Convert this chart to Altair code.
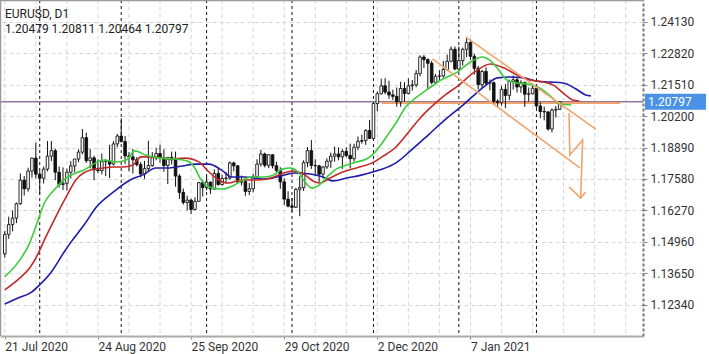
import altair as alt
import pandas as pd

# ---------------- data ----------------
symbol_title = "EURUSD, D1"
ohlc_title = "1.20479 1.20811 1.20464 1.20797"

opens = [1.1446, 1.1527, 1.1568, 1.1595, 1.1655, 1.1753, 1.1717, 1.1791, 1.1845,
         1.1778, 1.1761, 1.1799, 1.1853, 1.1876, 1.1786, 1.1735, 1.1740, 1.1786, 1.1812, 1.1841,
         1.1870, 1.1930, 1.1834, 1.1846, 1.1796, 1.1793, 1.1832, 1.1833, 1.1820, 1.1904,
         1.1937, 1.1914, 1.1854, 1.1850, 1.1838, 1.1818, 1.1779, 1.1801, 1.1814, 1.1846,
         1.1864, 1.1846, 1.1814, 1.1848, 1.1838, 1.1770, 1.1702, 1.1660, 1.1670, 1.1631,
         1.1665, 1.1743,
         1.1722, 1.1745, 1.1716, 1.1781, 1.1735, 1.1760, 1.1762, 1.1825, 1.1813, 1.1745,
         1.1747, 1.1706, 1.1717, 1.1767, 1.1820, 1.1862, 1.1815, 1.1859, 1.1813, 1.1794,
         1.1746, 1.1674,
         1.1645, 1.1640, 1.1715, 1.1722, 1.1826, 1.1876, 1.1814, 1.1813, 1.1778, 1.1808,
         1.1832, 1.1853, 1.1862, 1.1850, 1.1873, 1.1856, 1.1842, 1.1890, 1.1915, 1.1918,
         1.1960,
         1.1927, 1.2072, 1.2113, 1.2146, 1.2120, 1.2108, 1.2102, 1.2079, 1.2135, 1.2114,
         1.2146, 1.2150, 1.2197, 1.2266, 1.2255, 1.2240, 1.2160, 1.2186, 1.2187, 1.2214,
         1.2248, 1.2298,
         1.2216, 1.2251, 1.2298, 1.2326, 1.2269, 1.2219, 1.2151, 1.2206, 1.2157, 1.2159,
         1.2082, 1.2077, 1.2131, 1.2106, 1.2164, 1.2171, 1.2141, 1.2160, 1.2111, 1.2113,
         1.2136, 1.2062, 1.2039, 1.2037, 1.1966, 1.2045, 1.20479]
highs = [1.1541, 1.1601, 1.1626, 1.1660, 1.1781, 1.1770, 1.1805, 1.1847, 1.1909,
         1.1790, 1.1810, 1.1916, 1.1916, 1.1884, 1.1810, 1.1806, 1.1801, 1.1832, 1.1841, 1.1882,
         1.1966, 1.1951, 1.1883, 1.1855, 1.1840, 1.1864, 1.1840, 1.1900, 1.1916, 1.1945,
         1.2011, 1.1937, 1.1870, 1.1883, 1.1849, 1.1828, 1.1833, 1.1917, 1.1870, 1.1888,
         1.1901, 1.1882, 1.1837, 1.1872, 1.1872, 1.1778, 1.1718, 1.1688, 1.1676, 1.1682,
         1.1745, 1.1754,
         1.1767, 1.1747, 1.1798, 1.1806, 1.1776, 1.1788, 1.1831, 1.1830, 1.1815, 1.1772,
         1.1752, 1.1741, 1.1779, 1.1840, 1.1880, 1.1868, 1.1861, 1.1860, 1.1830, 1.1807,
         1.1760, 1.1707,
         1.1679, 1.1720, 1.1770, 1.1836, 1.1891, 1.1920, 1.1840, 1.1817, 1.1812, 1.1844,
         1.1868, 1.1893, 1.1890, 1.1882, 1.1890, 1.1905, 1.1905, 1.1935, 1.1942, 1.1965,
         1.2004,
         1.2077, 1.2122, 1.2176, 1.2178, 1.2167, 1.2130, 1.2139, 1.2163, 1.2161, 1.2177,
         1.2170, 1.2212, 1.2273, 1.2274, 1.2260, 1.2250, 1.2195, 1.2211, 1.2250, 1.2276,
         1.2310, 1.2310,
         1.2310, 1.2305, 1.2349, 1.2339, 1.2279, 1.2229, 1.2212, 1.2223, 1.2172, 1.2164,
         1.2090, 1.2145, 1.2153, 1.2172, 1.2189, 1.2182, 1.2169, 1.2163, 1.2139, 1.2155,
         1.2146, 1.2077, 1.2059, 1.2041, 1.2052, 1.2062, 1.20811]
lows = [1.1430, 1.1509, 1.1540, 1.1574, 1.1650, 1.1689, 1.1705, 1.1763, 1.1760,
        1.1696, 1.1739, 1.1790, 1.1833, 1.1753, 1.1722, 1.1712, 1.1711, 1.1760, 1.1786, 1.1828,
        1.1861, 1.1825, 1.1802, 1.1753, 1.1782, 1.1777, 1.1770, 1.1762, 1.1814, 1.1890,
        1.1910, 1.1820, 1.1790, 1.1781, 1.1810, 1.1765, 1.1759, 1.1790, 1.1809, 1.1836,
        1.1826, 1.1788, 1.1737, 1.1818, 1.1726, 1.1675, 1.1651, 1.1627, 1.1612, 1.1627,
        1.1663, 1.1685,
        1.1711, 1.1696, 1.1713, 1.1730, 1.1730, 1.1740, 1.1755, 1.1790, 1.1738, 1.1731,
        1.1688, 1.1691, 1.1703, 1.1760, 1.1810, 1.1806, 1.1803, 1.1802, 1.1779, 1.1717,
        1.1650, 1.1640,
        1.1622, 1.1637, 1.1603, 1.1708, 1.1807, 1.1800, 1.1771, 1.1745, 1.1760, 1.1800,
        1.1804, 1.1830, 1.1836, 1.1800, 1.1848, 1.1802, 1.1830, 1.1878, 1.1905, 1.1900,
        1.1925,
        1.1925, 1.2040, 1.2110, 1.2111, 1.2092, 1.2086, 1.2059, 1.2059, 1.2081, 1.2110,
        1.2126, 1.2140, 1.2185, 1.2220, 1.2130, 1.2152, 1.2151, 1.2165, 1.2180, 1.2207,
        1.2244, 1.2211,
        1.2210, 1.2230, 1.2265, 1.2253, 1.2193, 1.2131, 1.2132, 1.2150, 1.2127, 1.2071,
        1.2054, 1.2064, 1.2053, 1.2086, 1.2130, 1.2118, 1.2117, 1.2058, 1.2080, 1.2110,
        1.2054, 1.2011, 1.2002, 1.1959, 1.1952, 1.2014, 1.20464]
closes = [1.1527, 1.1568, 1.1595, 1.1655, 1.1753, 1.1717, 1.1791, 1.1845, 1.1778,
          1.1761, 1.1799, 1.1853, 1.1876, 1.1786, 1.1735, 1.1740, 1.1786, 1.1812, 1.1841, 1.1870,
          1.1930, 1.1834, 1.1846, 1.1796, 1.1793, 1.1832, 1.1833, 1.1820, 1.1904, 1.1937,
          1.1914, 1.1854, 1.1850, 1.1838, 1.1818, 1.1779, 1.1801, 1.1814, 1.1846, 1.1864,
          1.1846, 1.1814, 1.1848, 1.1838, 1.1770, 1.1702, 1.1660, 1.1670, 1.1631, 1.1665,
          1.1743, 1.1722,
          1.1745, 1.1716, 1.1781, 1.1735, 1.1760, 1.1762, 1.1825, 1.1813, 1.1745, 1.1747,
          1.1706, 1.1717, 1.1767, 1.1820, 1.1862, 1.1815, 1.1859, 1.1813, 1.1794, 1.1746,
          1.1674, 1.1645,
          1.1640, 1.1715, 1.1722, 1.1826, 1.1876, 1.1814, 1.1813, 1.1778, 1.1808, 1.1832,
          1.1853, 1.1862, 1.1850, 1.1873, 1.1856, 1.1842, 1.1890, 1.1915, 1.1918, 1.1960,
          1.1927,
          1.2072, 1.2113, 1.2146, 1.2120, 1.2108, 1.2102, 1.2079, 1.2135, 1.2114, 1.2146,
          1.2150, 1.2197, 1.2266, 1.2255, 1.2240, 1.2160, 1.2186, 1.2187, 1.2214, 1.2248,
          1.2298, 1.2216,
          1.2251, 1.2298, 1.2326, 1.2269, 1.2219, 1.2151, 1.2206, 1.2157, 1.2159, 1.2082,
          1.2077, 1.2131, 1.2106, 1.2164, 1.2171, 1.2141, 1.2160, 1.2111, 1.2113, 1.2136,
          1.2062, 1.2039, 1.2037, 1.1966, 1.2045, 1.2048, 1.20797]

# Alligator lines (bar position, price)
lips_idx = [0, 3.9, 6.4, 8.4, 10.2, 12.7, 15.8, 18.3, 20.4, 23.4, 25.4, 28.7, 31.3, 33.5,
            36.3, 39.9, 43.9, 47.0, 48.8, 50.3, 52.6, 55.9, 59.2, 60.9, 63.5, 66.8, 69.3,
            71.6, 73.6, 75.6, 77.4, 79.2, 80.7, 83.0, 85.5, 88.1, 90.6, 93.2, 94.7, 96.5,
            99.0, 100.8, 103.3, 105.8, 109.1, 112.4, 116.7, 120.0, 123.1, 124.9, 126.9,
            129.4, 132.0, 134.5, 137.8, 140.9, 142.9, 146.0]
lips_val = [1.1351, 1.1421, 1.1491, 1.1579, 1.1658, 1.1712, 1.1762, 1.1783, 1.1795, 1.1825,
            1.1837, 1.1829, 1.1837, 1.1875, 1.1858, 1.1845, 1.1841, 1.1833, 1.1808, 1.1762,
            1.1725, 1.1716, 1.1733, 1.1750, 1.1766, 1.1766, 1.1775, 1.1800, 1.1804, 1.1787,
            1.1745, 1.1720, 1.1729, 1.1766, 1.1800, 1.1816, 1.1829, 1.1841, 1.1858, 1.1891,
            1.1949, 1.1991, 1.2058, 1.2095, 1.2133, 1.2170, 1.2204, 1.2245, 1.2266, 1.2254,
            1.2220, 1.2170, 1.2158, 1.2154, 1.2137, 1.2099, 1.2070, 1.2066]
teeth_idx = [0, 3.9, 6.4, 8.4, 10.2, 12.7, 15.8, 18.3, 22.1, 25.4, 28.0, 30.5, 33.0, 35.1,
             38.1, 42.4, 46.5, 50.0, 52.6, 55.1, 57.6, 60.9, 65.2, 68.6, 71.9, 74.4, 76.9,
             80.0, 81.2, 83.8, 87.1, 90.6, 94.7, 97.2, 100.8, 104.1, 106.6, 109.9, 113.5,
             116.7, 121.1, 125.1, 128.7, 132.0, 135.3, 138.8, 141.4, 143.9, 146.4, 148.0]
teeth_val = [1.1296, 1.1346, 1.1387, 1.1441, 1.1504, 1.1587, 1.1683, 1.1754, 1.1795, 1.1804,
             1.1808, 1.1808, 1.1816, 1.1850, 1.1850, 1.1841, 1.1845, 1.1829, 1.1787, 1.1754,
             1.1741, 1.1754, 1.1754, 1.1762, 1.1783, 1.1791, 1.1779, 1.1745, 1.1741, 1.1762,
             1.1787, 1.1804, 1.1825, 1.1850, 1.1891, 1.1954, 1.2004, 1.2058, 1.2108, 1.2145,
             1.2204, 1.2237, 1.2220, 1.2191, 1.2170, 1.2162, 1.2149, 1.2116, 1.2087, 1.2083]
jaw_idx = [0, 3.4, 6.9, 8.9, 12.0, 15.3, 17.1, 20.4, 23.6, 28.0, 32.3, 35.6, 38.9, 42.4,
           45.7, 49.0, 52.6, 55.9, 58.4, 61.7, 66.8, 71.1, 74.4, 78.7, 82.0, 84.5, 88.1,
           92.1, 96.5, 100.8, 104.8, 109.1, 113.4, 117.5, 121.8, 124.4, 126.9, 130.2,
           133.7, 137.0, 140.3, 143.9, 147.2, 149.7, 151.0]
jaw_val = [1.1237, 1.1262, 1.1287, 1.1316, 1.1371, 1.1454, 1.1496, 1.1566, 1.1641, 1.1704,
           1.1754, 1.1775, 1.1804, 1.1804, 1.1812, 1.1820, 1.1820, 1.1795, 1.1766, 1.1766,
           1.1758, 1.1770, 1.1783, 1.1779, 1.1766, 1.1750, 1.1762, 1.1775, 1.1795, 1.1825,
           1.1879, 1.1941, 1.2004, 1.2058, 1.2120, 1.2154, 1.2179, 1.2183, 1.2179, 1.2166,
           1.2162, 1.2158, 1.2133, 1.2108, 1.2104]

# hand-drawn objects (bar position, price)
upper_idx = [118.8, 152.3]
upper_val = [1.2349, 1.1966]
lower_idx = [110.2, 148.2]
lower_val = [1.2258, 1.1804]
zig_idx = [145.4, 145.6, 148.9, 148.4]
zig_val = [1.2033, 1.1858, 1.1920, 1.1678]
head_idx = [145.4, 148.4, 149.7]
head_val = [1.1725, 1.1678, 1.1704]
level_idx = [97.2, 158.6]
level_val = 1.2074
bid_price = 1.20797

# axes
price_ticks = [1.12340, 1.13650, 1.14960, 1.16270, 1.17580, 1.18890,
               1.20200, 1.21510, 1.22820, 1.24130]
date_tick_idx = [0, 24, 48, 72, 96, 120]
date_tick_txt = ["21 Jul 2020", "24 Aug 2020", "25 Sep 2020", "29 Oct 2020",
                 "2 Dec 2020", "7 Jan 2021"]
vgrid_idx = [0, 8, 16, 24, 32, 40, 48, 56, 64, 72, 80, 88, 96, 104, 112, 120,
             128, 136, 144, 152, 160]
separator_idx = [9, 30, 52, 74, 95, 117, 137]

# ---------------- chart ----------------
W, H = 643, 336
FONT = "Roboto"

bars = pd.DataFrame({"i": list(range(len(closes))), "open": opens, "high": highs,
                     "low": lows, "close": closes})

label_expr = "".join(f"datum.value == {k} ? '{t}' : " for k, t in zip(date_tick_idx, date_tick_txt)) + "''"

xscale = alt.Scale(domain=[0.05, 163.17], nice=False, zero=False)
yscale = alt.Scale(domain=[1.1104, 1.25034], nice=False, zero=False)

xaxis = alt.Axis(values=date_tick_idx, labelExpr=label_expr, labelAlign="left",
                 labelBaseline="top", labelPadding=2, tickSize=3, tickColor="#888",
                 domainColor="#aaaaaa", domainWidth=2, grid=False, title=None,
                 labelFlush=False, labelOverlap=False, labelBound=False,
                 labelFont=FONT, labelFontSize=12, labelColor="#333")
yaxis = alt.Axis(orient="right", values=price_ticks, format=".5f", labelAlign="left",
                 labelBaseline="middle", labelPadding=3, tickSize=4, tickColor="#888",
                 domainColor="#777", domainWidth=2, domainDash=[3, 2],
                 grid=True, gridColor="#d6d6d6", gridDash=[4, 3], title=None,
                 labelFlush=False, labelOverlap=False, labelBound=False,
                 labelFont=FONT, labelFontSize=12, labelColor="#333")


def X(field="i"):
    return alt.X(f"{field}:Q", scale=xscale, axis=xaxis)


def Yq(field):
    return alt.Y(f"{field}:Q", scale=yscale, axis=yaxis)


vgrid = alt.Chart(pd.DataFrame({"i": vgrid_idx})).mark_rule(
    color="#d6d6d6", strokeDash=[4, 3], strokeWidth=1).encode(x=X())

seps = alt.Chart(pd.DataFrame({"i": separator_idx})).mark_rule(
    color="#111", strokeDash=[3, 3], strokeWidth=1).encode(x=X())

hbase = alt.Chart(pd.DataFrame({"p": price_ticks})).mark_rule(
    opacity=0).encode(y=Yq("p"))

bid_line = alt.Chart(pd.DataFrame({"p": [bid_price]})).mark_rule(
    color="#8e78a0", strokeWidth=1.5).encode(y=Yq("p"))

level = alt.Chart(pd.DataFrame({"i": [level_idx[0]], "i2": [level_idx[1]], "p": [level_val]})).mark_rule(
    color="#f0a46c", strokeWidth=2).encode(x=X(), x2="i2:Q", y=Yq("p"))

wicks = alt.Chart(bars).mark_rule(color="#111", strokeWidth=1).encode(
    x=X(), y=Yq("low"), y2="high:Q")

bodies = alt.Chart(bars).mark_bar(size=2.6, stroke="#111", strokeWidth=0.9, orient="vertical").encode(
    x=X(), y=Yq("open"), y2="close:Q",
    fill=alt.condition("datum.close >= datum.open", alt.value("#ffffff"), alt.value("#111111")))


def ma_line(idx, val, color):
    df = pd.DataFrame({"i": idx, "p": val})
    return alt.Chart(df).mark_line(color=color, strokeWidth=1.6, interpolate="monotone").encode(
        x=X(), y=Yq("p"))


jaw = ma_line(jaw_idx, jaw_val, "#1c1ca8")
teeth = ma_line(teeth_idx, teeth_val, "#c22a2a")
lips = ma_line(lips_idx, lips_val, "#3ccc3c")


def drawn(idx, val):
    df = pd.DataFrame({"i": idx, "p": val, "k": list(range(len(idx)))})
    return alt.Chart(df).mark_line(color="#f0a46c", strokeWidth=1.6).encode(
        x=X(), y=Yq("p"), order="k:Q")


upper = drawn(upper_idx, upper_val)
lower = drawn(lower_idx, lower_val)
zig = drawn(zig_idx, zig_val)
head = drawn(head_idx, head_val)

# frame (top and left)
frame_top = alt.Chart(pd.DataFrame({"a": [0]})).mark_rule(color="#9a9a9a", strokeWidth=1.5).encode(
    x=alt.value(0), x2=alt.value(W), y=alt.value(0.5))
frame_left = alt.Chart(pd.DataFrame({"a": [0]})).mark_rule(color="#9a9a9a", strokeWidth=1.5).encode(
    x=alt.value(0.5), y=alt.value(0), y2=alt.value(H))

title1 = alt.Chart(pd.DataFrame({"t": [symbol_title]})).mark_text(
    align="left", baseline="middle", font=FONT, fontSize=12, color="#222").encode(
    x=alt.value(5), y=alt.value(14), text="t:N")
title2 = alt.Chart(pd.DataFrame({"t": [ohlc_title]})).mark_text(
    align="left", baseline="middle", font=FONT, fontSize=12, color="#222").encode(
    x=alt.value(5), y=alt.value(29), text="t:N")

bid_df = pd.DataFrame({"p": [bid_price], "t": [f"{bid_price:.5f}"]})
bid_box = alt.Chart(bid_df).mark_rule(color="#4a92e6", strokeWidth=16, strokeCap="butt").encode(
    x=alt.value(645), x2=alt.value(706), y=Yq("p"))
bid_text = alt.Chart(bid_df).mark_text(align="left", baseline="middle", font=FONT,
                                       fontSize=12, color="#ffffff").encode(
    x=alt.value(648), y=Yq("p"), text="t:N")

chart = alt.layer(
    vgrid, hbase, seps, bid_line, level, wicks, bodies, jaw, teeth, lips,
    upper, lower, zig, head, frame_top, frame_left, title1, title2, bid_box, bid_text
).properties(
    width=W, height=H,
    autosize=alt.AutoSizeParams(type="none"),
    padding={"left": 0, "top": 0, "right": 66, "bottom": 18},
    background="#ffffff",
).configure_view(stroke=None)

chart.save("out.html", embed_options={"renderer": "svg", "actions": False})
